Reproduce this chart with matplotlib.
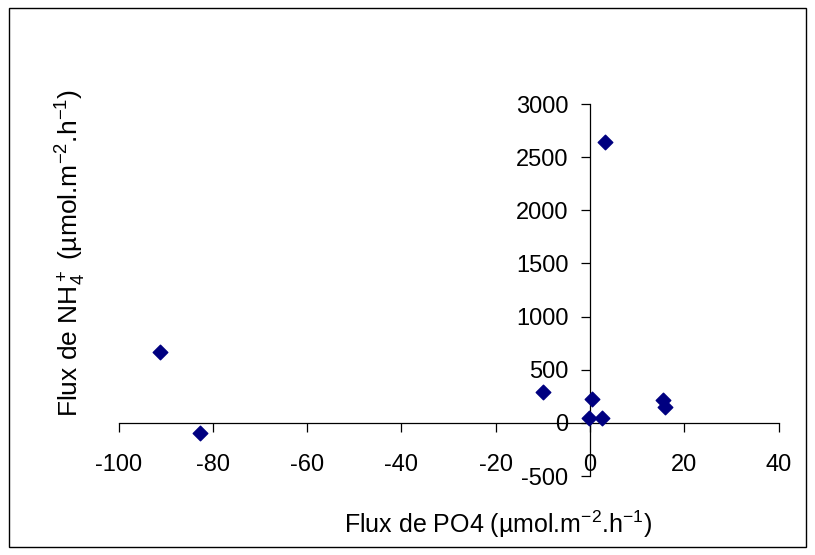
import matplotlib.pyplot as plt
from matplotlib.patches import Rectangle

plt.rcParams['font.family'] = ['Liberation Sans', 'DejaVu Sans']
plt.rcParams['mathtext.fontset'] = 'custom'
plt.rcParams['mathtext.rm'] = 'Liberation Sans'
plt.rcParams['mathtext.it'] = 'Liberation Sans'
plt.rcParams['axes.unicode_minus'] = False

# flux de PO4 et NH4+ (µmol.m-2.h-1)
po4 = [-91.2, -82.7, -10.0, 0.4, -0.2, 2.5, 15.5, 16.0, 3.2]
nh4 = [670, -94, 295, 226, 47, 47, 217, 151, 2644]

xticks = [-100, -80, -60, -40, -20, 0, 20, 40]
yticks = [-500, 0, 500, 1000, 1500, 2000, 2500, 3000]

fig = plt.figure(figsize=(8.15, 5.55), dpi=100)
ax = fig.add_axes([0.1454, 0.1423, 0.81, 0.6703])

ax.scatter(po4, nh4, marker='D', s=55, color='#000080', zorder=3, clip_on=False)

ax.set_xlim(-100, 40)
ax.set_ylim(-500, 3000)
ax.set_xticks(xticks)
ax.set_yticks(yticks)

# axes qui se croisent en zero, comme Excel
ax.spines['left'].set_position(('data', 0))
ax.spines['bottom'].set_position(('data', 0))
ax.spines['top'].set_visible(False)
ax.spines['right'].set_visible(False)
for s in ['left', 'bottom']:
    ax.spines[s].set_color('black')
    ax.spines[s].set_linewidth(0.9)

ax.tick_params(axis='both', direction='out', length=6.5, width=0.9, labelsize=17, colors='black')
ax.tick_params(axis='x', pad=16)
ax.tick_params(axis='y', pad=9)

fig.text(0.611, 0.056, r'Flux de PO4 (µmol.m$^{-2}$.h$^{-1}$)', fontsize=18,
         ha='center', va='center')
fig.text(0.087, 0.545, r'Flux de NH$_4^+$ (µmol.m$^{-2}$.h$^{-1}$)', fontsize=19,
         ha='center', va='center', rotation=90)

fig.patches.append(Rectangle((9 / 815, 8 / 555), 797 / 815, 539 / 555, transform=fig.transFigure,
                             fill=False, edgecolor='black', linewidth=1))

plt.savefig('out.png', dpi=100)
